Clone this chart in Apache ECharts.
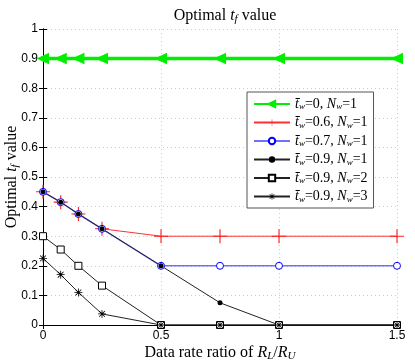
<!DOCTYPE html>
<html>
<head>
<meta charset="utf-8">
<style>
  html, body { margin: 0; padding: 0; background: #fff; }
  #chart { width: 415px; height: 364px; }
</style>
<script src="https://cdn.jsdelivr.net/npm/echarts@6/dist/echarts.min.js"></script>
</head>
<body>
<div id="chart"></div>
<script>
// data
var ratios = [0, 0.075, 0.15, 0.25, 0.5, 0.75, 1, 1.5];
var tw0_nw1 = [0.9, 0.9, 0.9, 0.9, 0.9, 0.9, 0.9, 0.9];
var tw06_nw1 = [0.45, 0.415, 0.375, 0.325, 0.3, 0.3, 0.3, 0.3];
var tw07_nw1 = [0.45, 0.415, 0.375, 0.325, 0.2, 0.2, 0.2, 0.2];
var tw09_nw1 = [0.45, 0.415, 0.375, 0.325, 0.2, 0.075, 0, 0];
var tw09_nw2 = [0.3, 0.255, 0.2, 0.133, 0, 0, 0, 0];
var tw09_nw3 = [0.225, 0.17, 0.11, 0.0375, 0, 0, 0, 0];
var legendTw = ['0', '0.6', '0.7', '0.9', '0.9', '0.9'];
var legendNw = ['1', '1', '1', '1', '2', '3'];

var serif = "'Liberation Serif', 'DejaVu Serif', serif";
var sans = "'Liberation Sans', Arial, sans-serif";

function pairs(ys) {
  var out = [];
  for (var i = 0; i < ratios.length; i++) out.push([ratios[i], ys[i]]);
  return out;
}

var richBase = {
  n: { fontFamily: serif, fontSize: 16, fontWeight: 'normal', color: '#000' },
  i: { fontFamily: serif, fontSize: 16, fontWeight: 'normal', fontStyle: 'italic', color: '#000' },
  s: { fontFamily: serif, fontSize: 11, fontWeight: 'normal', fontStyle: 'italic', color: '#000', padding: [7, 0, 0, 0] }
};

var plusPath = 'path://M4.6,0 h0.8 v4.6 h4.6 v0.8 h-4.6 v4.6 h-0.8 v-4.6 h-4.6 v-0.8 h4.6 z';
var starPath = 'path://M4.5,0 h1 v4.5 h4.5 v1 h-4.5 v4.5 h-1 v-4.5 h-4.5 v-1 h4.5 z' +
  'M1.7,1.0 L5,4.3 L8.3,1.0 L9,1.7 L5.7,5 L9,8.3 L8.3,9 L5,5.7 L1.7,9 L1,8.3 L4.3,5 L1,1.7 z';

var names = [];
for (var k = 0; k < legendTw.length; k++) {
  names.push('s' + k);
}

var chart = echarts.init(document.getElementById('chart'));
chart.setOption({
  backgroundColor: '#fff',
  animation: false,
  title: {
    text: '{n|Optimal }{i|t}{s|f}{n| value}',
    left: 220,
    top: 2,
    textAlign: 'center',
    textStyle: { fontWeight: 'normal', rich: richBase }
  },
  legend: {
    orient: 'vertical',
    left: 247,
    top: 92,
    padding: [5, 6, 4, 6],
    itemGap: 4,
    itemWidth: 36,
    itemHeight: 8,
    backgroundColor: '#fff',
    borderColor: '#555',
    borderWidth: 1,
    borderRadius: 0,
    data: names,
    formatter: function (name) {
      var k = +name.slice(1);
      return '{i|t\u0304}{s|w}{n|=' + legendTw[k] + ', }{i|N}{s|w}{n|=' + legendNw[k] + '}';
    },
    textStyle: {
      rich: {
        n: { fontFamily: serif, fontSize: 14, color: '#000' },
        i: { fontFamily: serif, fontSize: 14, fontStyle: 'italic', color: '#000' },
        s: { fontFamily: serif, fontSize: 9, fontStyle: 'italic', color: '#000', padding: [6, 0, 0, 0] }
      }
    }
  },
  grid: { left: 43, right: 18, top: 29, bottom: 39, outerBoundsMode: 'none', containLabel: false },
  xAxis: [{
    type: 'value',
    min: 0, max: 1.5, interval: 0.5,
    name: '{n|Data rate ratio of }{i|R}{s|L}{n|/}{i|R}{s|U}',
    nameLocation: 'middle',
    nameGap: 19,
    nameMoveOverlap: false,
    nameTextStyle: { rich: richBase },
    axisLine: { lineStyle: { color: '#000', width: 1 } },
    axisTick: { inside: true, length: 4, lineStyle: { color: '#000' } },
    axisLabel: { fontFamily: sans, fontSize: 12, color: '#000', margin: 5,
      formatter: function (v) { return String(v); } },
    splitLine: { show: true, lineStyle: { color: '#ccc', type: [1, 3] } }
  }, {
    type: 'value', position: 'top',
    min: 0, max: 1.5, interval: 0.5,
    axisLine: { show: true, lineStyle: { color: '#000', width: 1 } },
    axisTick: { show: true, inside: true, length: 4, lineStyle: { color: '#000' } },
    axisLabel: { show: false },
    splitLine: { show: false }
  }],
  yAxis: [{
    type: 'value',
    min: 0, max: 1, interval: 0.1,
    name: '{n|Optimal }{i|t}{s|f}{n| value}',
    nameLocation: 'middle',
    nameGap: 22,
    nameMoveOverlap: false,
    nameRotate: 90,
    nameTextStyle: { rich: richBase },
    axisLine: { show: true, lineStyle: { color: '#000', width: 1 } },
    axisTick: { show: true, inside: true, length: 4, lineStyle: { color: '#000' } },
    axisLabel: { fontFamily: sans, fontSize: 12, color: '#000', margin: 5,
      formatter: function (v) { return String(Math.round(v * 10) / 10); } },
    splitLine: { show: true, lineStyle: { color: '#ccc', type: [1, 3] } }
  }, {
    type: 'value', position: 'right',
    min: 0, max: 1, interval: 0.1,
    axisLine: { show: true, lineStyle: { color: '#000', width: 1 } },
    axisTick: { show: true, inside: true, length: 4, lineStyle: { color: '#000' } },
    axisLabel: { show: false },
    splitLine: { show: false }
  }],
  series: [{
    name: names[0], type: 'line', data: pairs(tw0_nw1),
    symbol: 'triangle', symbolRotate: 90, symbolSize: [10, 11],
    lineStyle: { color: '#00ee00', width: 3.5 },
    itemStyle: { color: '#00ee00', borderColor: '#00ee00', borderWidth: 1 }
  }, {
    name: names[1], type: 'line', data: pairs(tw06_nw1),
    symbol: plusPath, symbolSize: 14, showAllSymbol: true,
    lineStyle: { color: '#ff3030', width: 1 },
    itemStyle: { color: '#ff2020', borderWidth: 0 }
  }, {
    name: names[2], type: 'line', data: pairs(tw07_nw1),
    symbol: 'circle', symbolSize: 7,
    lineStyle: { color: '#7070ff', width: 1.5 },
    itemStyle: { color: '#fff', borderColor: '#0000ff', borderWidth: 1 }
  }, {
    name: names[3], type: 'line', data: pairs(tw09_nw1),
    symbol: 'circle', symbolSize: 5,
    lineStyle: { color: '#222', width: 1 },
    itemStyle: { color: '#000', borderColor: '#000', borderWidth: 0 }
  }, {
    name: names[4], type: 'line', data: pairs(tw09_nw2),
    symbol: 'rect', symbolSize: 7,
    lineStyle: { color: '#222', width: 1 },
    itemStyle: { color: '#fff', borderColor: '#000', borderWidth: 1 }
  }, {
    name: names[5], type: 'line', data: pairs(tw09_nw3),
    symbol: starPath, symbolSize: 8,
    lineStyle: { color: '#222', width: 1 },
    itemStyle: { color: '#000', borderWidth: 0 }
  }]
});
</script>
</body>
</html>
